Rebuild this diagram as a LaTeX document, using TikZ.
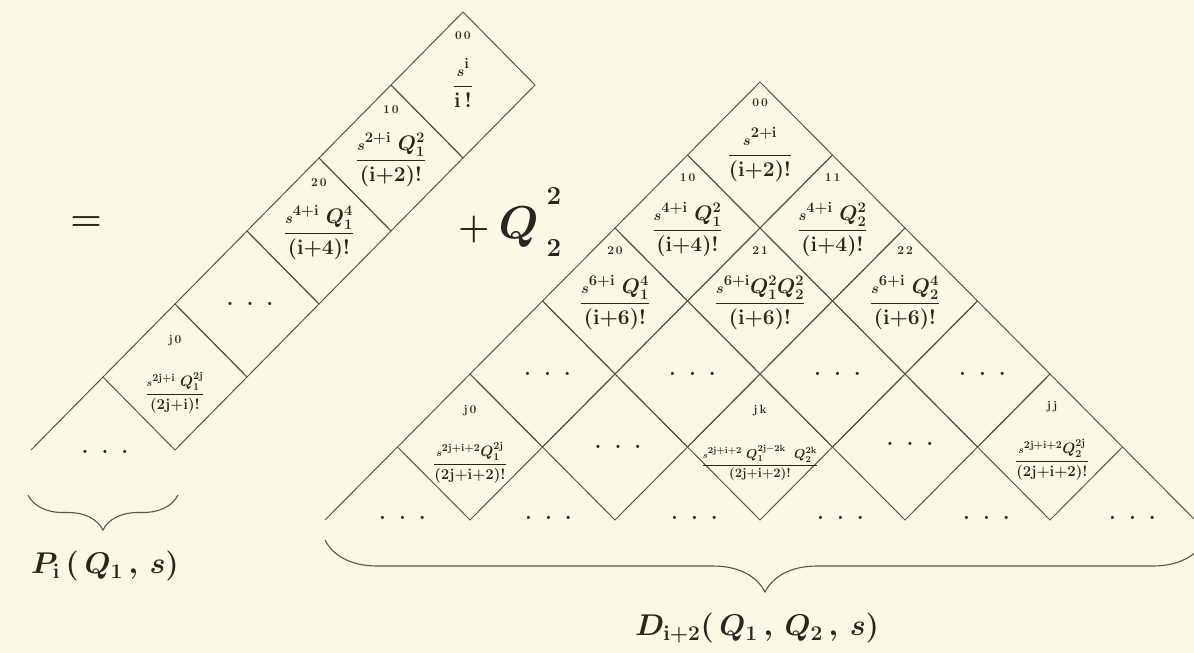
\documentclass[tikz,border=0pt]{standalone}
\usepackage{fix-cm}
\usepackage{amsmath}
\usetikzlibrary{decorations.pathreplacing}
\definecolor{scanPaper}{HTML}{FBF8E6}
\definecolor{scanInk}{HTML}{2A2520}
\definecolor{scanLine}{HTML}{5A544C}
\tikzset{
  grid line/.style={draw=scanLine, line width=1pt},
  cell index/.style={font=\fontsize{12}{12}\selectfont\bfseries, text=scanInk, inner sep=0pt},
  cell frac/.style={font=\fontsize{21}{24}\selectfont\boldmath, text=scanInk, inner sep=0pt, anchor=base},
  cell frac small/.style={font=\fontsize{15}{17}\selectfont\boldmath, text=scanInk, inner sep=0pt, anchor=base},
  cell dots/.style={font=\fontsize{22}{22}\selectfont\bfseries, text=scanInk, inner sep=0pt},
  big sign/.style={font=\fontsize{36}{40}\selectfont\boldmath, text=scanInk, inner sep=0pt},
  sum label/.style={font=\fontsize{30}{34}\selectfont\boldmath, text=scanInk, inner sep=0pt},
  sum brace/.style={draw=scanLine, line width=1.1pt, decorate, decoration={brace, mirror, amplitude=#1}},
}

\begin{document}
\begin{tikzpicture}[x=1pt,y=-1pt]
  \useasboundingbox (0,0) rectangle (1194,653);
  \fill[scanPaper] (0,0) rectangle (1194,653);
  \clip (0,0) rectangle (1194,653);

  % Left strip: cells stepping down to the left
  \foreach \k in {0,...,4}
    \draw[grid line] ({463-72*\k},{12+73*\k}) -- ++(72,73) -- ++(-72,73) -- ++(-72,-73) -- cycle;
  \draw[grid line] (103,377) -- (31,450);

  % Triangle: rows 0..4 of cells, open row below
  \foreach \r in {0,...,4}
    \foreach \c in {0,...,\r}
      \draw[grid line] ({760+(2*\c-\r)*72.5},{82+73*\r}) -- ++(72.5,73) -- ++(-72.5,73) -- ++(-72.5,-73) -- cycle;
  \draw[grid line] (397.5,447) -- (325,520);
  \draw[grid line] (1122.5,447) -- (1195,520);

  % Left strip entries
  \node[cell index] (pIdx00) at (463,36) {0\,0};
  \node[cell frac] (pCell00) at (463,92) {$\dfrac{{\scriptstyle s}^{\mathrm{i}}}{\mathrm{i\,!}}$};
  \node[cell index] (pIdx10) at (391,110) {1\,0};
  \node[cell frac] (pCell10) at (391,166) {$\dfrac{{\scriptstyle s}^{\mathrm{2{+}i}}\;Q_1^2}{\mathrm{(i{+}2)!}}$};
  \node[cell index] (pIdx20) at (319,183) {2\,0};
  \node[cell frac] (pCell20) at (319,239) {$\dfrac{{\scriptstyle s}^{\mathrm{4{+}i}}\;Q_1^4}{\mathrm{(i{+}4)!}}$};
  \node[cell dots] (pDots3) at (250,304) {.\hspace{13pt}.\hspace{13pt}.};
  \node[cell index] (pIdxj0) at (175,341) {j\,0};
  \node[cell frac small] (pCellj0) at (175,398) {$\dfrac{{\scriptstyle s}^{\mathrm{2j{+}i}}\;Q_1^{\mathrm{2j}}}{\mathrm{(2j{+}i)!}}$};
  \node[cell dots] (pDots5) at (105,452) {.\hspace{13pt}.\hspace{13pt}.};

  % Triangle entries, rows 0..2
  \node[cell index] (dIdx00) at (760,103) {0\,0};
  \node[cell frac] (dCell00) at (760,161) {$\dfrac{{\scriptstyle s}^{\mathrm{2{+}i}}}{\mathrm{(i{+}2)!}}$};
  \node[cell index] (dIdx10) at (687.5,178) {1\,0};
  \node[cell frac] (dCell10) at (687.5,236) {$\dfrac{{\scriptstyle s}^{\mathrm{4{+}i}}\;Q_1^2}{\mathrm{(i{+}4)!}}$};
  \node[cell index] (dIdx11) at (832.5,178) {1\,1};
  \node[cell frac] (dCell11) at (832.5,236) {$\dfrac{{\scriptstyle s}^{\mathrm{4{+}i}}\;Q_2^2}{\mathrm{(i{+}4)!}}$};
  \node[cell index] (dIdx20) at (615,251) {2\,0};
  \node[cell frac] (dCell20) at (615,309) {$\dfrac{{\scriptstyle s}^{\mathrm{6{+}i}}\;Q_1^4}{\mathrm{(i{+}6)!}}$};
  \node[cell index] (dIdx21) at (760,251) {2\,1};
  \node[cell frac] (dCell21) at (760,309) {$\dfrac{{\scriptstyle s}^{\mathrm{6{+}i}}Q_1^2Q_2^2}{\mathrm{(i{+}6)!}}$};
  \node[cell index] (dIdx22) at (905,251) {2\,2};
  \node[cell frac] (dCell22) at (905,309) {$\dfrac{{\scriptstyle s}^{\mathrm{6{+}i}}\;Q_2^4}{\mathrm{(i{+}6)!}}$};

  % Row 3 is only dots
  \foreach \c in {0,...,3}
    \node[cell dots] (dDots3\c) at ({547.5+145*\c},374) {.\hspace{13pt}.\hspace{13pt}.};

  % Row 4
  \node[cell index] (dIdxj0) at (470,411) {j\,0};
  \node[cell frac small] (dCellj0) at (470,468) {$\dfrac{{\scriptstyle s}^{\mathrm{2j{+}i{+}2}}Q_1^{\mathrm{2j}}}{\mathrm{(2j{+}i{+}2)!}}$};
  \node[cell dots] (dDots41) at (618,447) {.\hspace{13pt}.\hspace{13pt}.};
  \node[cell index] (dIdxjk) at (760,411) {j\,k};
  \node[cell frac small, font=\fontsize{13}{15}\selectfont\boldmath] (dCelljk) at (760,468) {$\dfrac{{\scriptstyle s}^{\mathrm{2j{+}i{+}2}}\;Q_1^{\mathrm{2j{-}2k}}\;\;Q_2^{\mathrm{2k}}}{\mathrm{(2j{+}i{+}2)!}}$};
  \node[cell dots] (dDots43) at (910,444) {.\hspace{13pt}.\hspace{13pt}.};
  \node[cell index] (dIdxjj) at (1052,407) {j\,j};
  \node[cell frac small] (dCelljj) at (1052,465) {$\dfrac{{\scriptstyle s}^{\mathrm{2j{+}i{+}2}}Q_2^{\mathrm{2j}}}{\mathrm{(2j{+}i{+}2)!}}$};

  % Open row 5
  \foreach \c in {0,...,5}
    \node[cell dots] (dDots5\c) at ({402.5+146*\c},518) {.\hspace{13pt}.\hspace{13pt}.};

  % Signs between the parts
  \node[big sign] (eqSign) at (86,224) {$=$};
  \node[big sign, anchor=base west] (plusSign) at (458,238)
    {$+$\hspace{9pt}{\fontsize{46}{50}\selectfont$Q$}\hspace{8pt}\rlap{\raisebox{34pt}{\fontsize{26}{28}\selectfont\bfseries 2}}\raisebox{-18pt}{\fontsize{26}{28}\selectfont\bfseries 2}};

  % Braces and their names
  \coordinate (pBraceL) at (28,495);
  \coordinate (pBraceR) at (178,495);
  \draw[sum brace=35] (pBraceL) -- (pBraceR);
  \node[sum label] (pLabel) at (105,566) {$P_{\mathrm{i}}\,(\,Q_1\,,\,s)$};
  \coordinate (dBraceL) at (325,540);
  \coordinate (dBraceR) at (1205,540);
  \draw[sum brace=52] (dBraceL) -- (dBraceR);
  \node[sum label] (dLabel) at (757,628) {$D_{\mathrm{i{+}2}}(\,Q_1\,,\,Q_2\,,\,s)$};
\end{tikzpicture}
\end{document}
